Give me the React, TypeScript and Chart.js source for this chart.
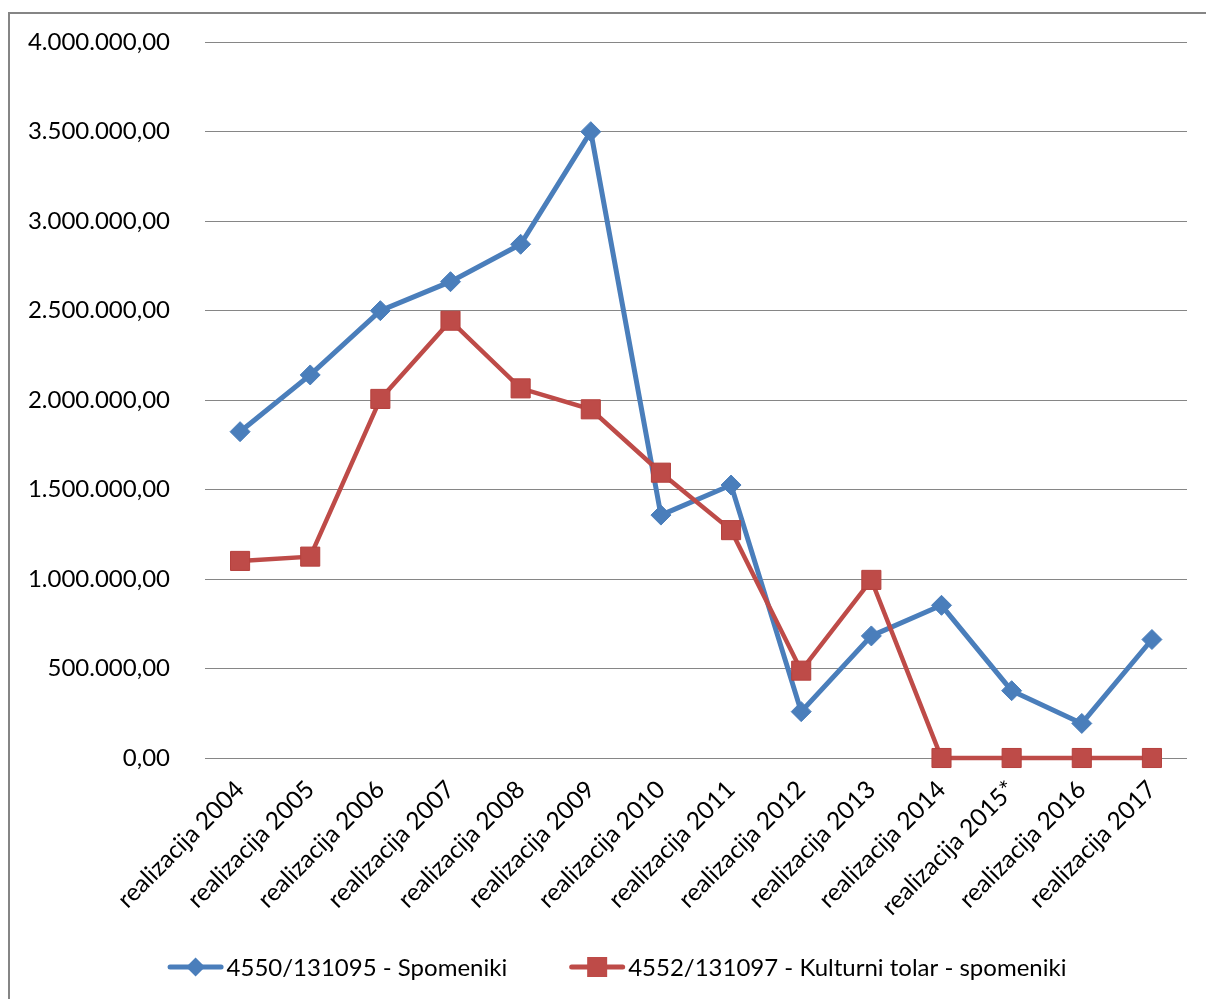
import React, { useEffect, useRef } from "react";
import { Chart, registerables } from "chart.js";

Chart.register(...registerables);

const categories = [
  "realizacija 2004",
  "realizacija 2005",
  "realizacija 2006",
  "realizacija 2007",
  "realizacija 2008",
  "realizacija 2009",
  "realizacija 2010",
  "realizacija 2011",
  "realizacija 2012",
  "realizacija 2013",
  "realizacija 2014",
  "realizacija 2015*",
  "realizacija 2016",
  "realizacija 2017",
];

const seriesNames = [
  "4550/131095 - Spomeniki",
  "4552/131097 - Kulturni tolar - spomeniki",
];

const spomeniki = [
  1823000, 2140000, 2499000, 2661000, 2870000, 3499000, 1357000, 1525000,
  259000, 682000, 853000, 376000, 193000, 662000,
];

const kulturniTolar = [
  1101000, 1125000, 2006000, 2443000, 2065000, 1948000, 1594000, 1273000,
  488000, 995000, 0, 0, 0, 0,
];

const yMin = 0;
const yMax = 4000000;
const yStep = 500000;

const BLUE = "#4A7EBB";
const RED = "#BE4B48";
const GRID = "#868686";
const TEXT = "#000000";
const FONT = "Lato";

const LEGEND_FONT_SIZE = 24;
const LEGEND_LINE = 56;
const LEGEND_TEXT_GAP = 3;
const LEGEND_ITEM_GAP = 62;
const LEGEND_CENTER_X = 607;
const LEGEND_Y = 953;

function formatNumber(v: number): string {
  const neg = v < 0;
  const fixed = Math.abs(v).toFixed(2);
  const [intPart, dec] = fixed.split(".");
  let out = "";
  for (let i = 0; i < intPart.length; i++) {
    const fromEnd = intPart.length - i;
    out += intPart[i];
    if (fromEnd > 1 && (fromEnd - 1) % 3 === 0) out += ".";
  }
  return (neg ? "-" : "") + out + "," + dec;
}

const lineLegend = {
  id: "lineLegend",
  afterDraw(chart: any) {
    const { ctx } = chart;
    const items = chart.data.datasets as any[];
    ctx.save();
    ctx.font = `${LEGEND_FONT_SIZE}px ${FONT}`;
    const widths = items.map(
      (ds) => LEGEND_LINE + LEGEND_TEXT_GAP + ctx.measureText(ds.label).width
    );
    const total =
      widths.reduce((a, b) => a + b, 0) + LEGEND_ITEM_GAP * (items.length - 1);
    let x = LEGEND_CENTER_X - total / 2;
    const y = LEGEND_Y;
    items.forEach((ds, i) => {
      ctx.strokeStyle = ds.borderColor;
      ctx.lineWidth = 5;
      ctx.lineCap = "round";
      ctx.beginPath();
      ctx.moveTo(x + 2.5, y);
      ctx.lineTo(x + LEGEND_LINE - 2.5, y);
      ctx.stroke();
      const cx = x + LEGEND_LINE / 2;
      ctx.fillStyle = ds.pointBackgroundColor;
      ctx.beginPath();
      if (ds.pointStyle === "rectRot") {
        const r = 9.5;
        ctx.moveTo(cx, y - r);
        ctx.lineTo(cx + r, y);
        ctx.lineTo(cx, y + r);
        ctx.lineTo(cx - r, y);
        ctx.closePath();
      } else {
        const s = 20;
        ctx.rect(cx - s / 2, y - s / 2, s, s);
      }
      ctx.fill();
      ctx.fillStyle = TEXT;
      ctx.textAlign = "left";
      ctx.textBaseline = "middle";
      ctx.fillText(ds.label, x + LEGEND_LINE + LEGEND_TEXT_GAP, y + 1);
      x += widths[i] + LEGEND_ITEM_GAP;
    });
    ctx.restore();
  },
};

export default function App() {
  const canvasRef = useRef<HTMLCanvasElement | null>(null);

  useEffect(() => {
    if (!canvasRef.current) return;
    const chart = new Chart(canvasRef.current, {
      type: "line",
      data: {
        labels: categories,
        datasets: [
          {
            label: seriesNames[0],
            data: spomeniki,
            borderColor: BLUE,
            backgroundColor: BLUE,
            borderWidth: 5,
            pointStyle: "rectRot",
            pointRadius: 10,
            pointBackgroundColor: BLUE,
            pointBorderColor: BLUE,
            pointBorderWidth: 1,
            tension: 0,
            clip: false,
            order: 1,
          },
          {
            label: seriesNames[1],
            data: kulturniTolar,
            borderColor: RED,
            backgroundColor: RED,
            borderWidth: 4.5,
            pointStyle: "rect",
            pointRadius: 13.5,
            pointBackgroundColor: RED,
            pointBorderColor: "#B5403D",
            pointBorderWidth: 1,
            tension: 0,
            clip: false,
            order: 0,
          },
        ],
      },
      options: {
        responsive: false,
        animation: false,
        devicePixelRatio: 1,
        layout: { padding: { left: 0, top: 28, right: 19, bottom: 71 } },
        scales: {
          x: {
            offset: true,
            grid: { display: false, drawTicks: false },
            border: { display: false },
            ticks: {
              minRotation: 45,
              maxRotation: 45,
              autoSkip: false,
              padding: 17,
              color: TEXT,
              font: { family: FONT, size: 24.5 },
            },
            afterFit: (s: any) => {
              s.height = 170;
            },
          },
          y: {
            min: yMin,
            max: yMax,
            grid: { color: GRID, lineWidth: 1, drawTicks: false },
            border: { display: false },
            ticks: {
              stepSize: yStep,
              padding: 35,
              color: TEXT,
              font: { family: FONT, size: 24 },
              callback: (v: any) => formatNumber(Number(v)),
            },
            afterFit: (s: any) => {
              s.width = 195;
              s.paddingTop = 0;
              s.paddingBottom = 0;
            },
          },
        },
        plugins: {
          tooltip: { enabled: false },
          legend: { display: false },
        },
      },
      plugins: [lineLegend],
    } as any);
    return () => chart.destroy();
  }, []);

  return (
    <div
      style={{
        position: "fixed",
        left: 8,
        top: 12,
        right: 0,
        bottom: 0,
        borderLeft: "2px solid #858585",
        borderTop: "2px solid #858585",
        background: "#ffffff",
        overflow: "hidden",
      }}
    >
      <canvas ref={canvasRef} width={1196} height={985} style={{ display: "block" }} />
    </div>
  );
}
